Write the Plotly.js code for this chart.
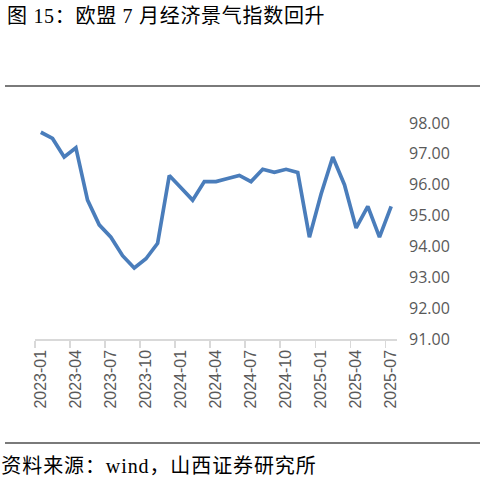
<!DOCTYPE html>
<html>
<head>
<meta charset="utf-8">
<script src="https://cdn.plot.ly/plotly-3.0.1.min.js"></script>
<style>
html,body{margin:0;padding:0;background:#fff;}
#chart{width:485px;height:484px;}
#chart .gtitle{letter-spacing:0.7px;}
#chart .annotation-text{letter-spacing:0.9px;}
</style>
</head>
<body>
<div id="chart"></div>
<script>
var months = ["2023-01","2023-02","2023-03","2023-04","2023-05","2023-06","2023-07","2023-08","2023-09","2023-10","2023-11","2023-12",
"2024-01","2024-02","2024-03","2024-04","2024-05","2024-06","2024-07","2024-08","2024-09","2024-10","2024-11","2024-12",
"2025-01","2025-02","2025-03","2025-04","2025-05","2025-06","2025-07"];
var esi = [97.7,97.5,96.9,97.2,95.5,94.7,94.3,93.7,93.3,93.6,94.1,96.3,
95.9,95.5,96.1,96.1,96.2,96.3,96.1,96.5,96.4,96.5,96.4,94.3,
95.7,96.9,96.0,94.6,95.3,94.3,95.3];
var titleText = "图 15：欧盟 7 月经济景气指数回升";
var sourceText = "资料来源：wind，山西证券研究所";

var L = 35, R = 397, T = 123, B = 339;
var W = 485, H = 484;
function px(x){ return (x - L) / (R - L); }
function py(y){ return (B - y) / (B - T); }

var serif = "Liberation Serif, 'Noto Sans CJK SC', serif";

var trace = {
  x: months, y: esi, type: "scatter", mode: "lines",
  line: {color: "#4a7dbb", width: 3.7},
  hoverinfo: "skip"
};

var layout = {
  width: W, height: H,
  margin: {l: L, r: W - R, t: T, b: H - B, pad: 0},
  paper_bgcolor: "#fff", plot_bgcolor: "#fff",
  showlegend: false,
  title: {text: titleText, x: 7 / W, xanchor: "left", xref: "container",
          y: 1 - 16 / H, yanchor: "middle", yref: "container",
          font: {family: serif, size: 20, color: "#000"}},
  xaxis: {
    type: "category", range: [-0.5, 30.5],
    tickson: "boundaries", tickmode: "linear", tick0: 0, dtick: 3,
    tickangle: -90, ticks: "outside", ticklen: 7, tickwidth: 1.5,
    tickcolor: "#d9d9d9", showline: true, linecolor: "#d9d9d9", linewidth: 1.5,
    showgrid: false, zeroline: false, ticklabelstandoff: 3,
    tickfont: {family: "'Liberation Sans', Arial, sans-serif", size: 16, color: "#595959"},
    fixedrange: true
  },
  yaxis: {
    side: "right", range: [91, 98], tickmode: "linear", tick0: 91, dtick: 1,
    tickformat: ".2f", showgrid: false, zeroline: false, showline: false,
    ticks: "", ticklabelstandoff: 11,
    tickfont: {family: "'Open Sans', sans-serif", size: 16, color: "#595959"},
    fixedrange: true
  },
  shapes: [
    {type: "line", xref: "paper", yref: "paper", x0: px(5), x1: px(480), y0: py(86), y1: py(86),
     line: {color: "#7a7a7a", width: 2}},
    {type: "line", xref: "paper", yref: "paper", x0: px(5), x1: px(480), y0: py(443), y1: py(443),
     line: {color: "#7a7a7a", width: 2}}
  ],
  annotations: [
    {text: sourceText, xref: "paper", yref: "paper", x: px(7), y: py(466),
     xanchor: "left", yanchor: "middle", showarrow: false,
     font: {family: serif, size: 20, color: "#000"}}
  ]
};

Plotly.newPlot("chart", [trace], layout, {displayModeBar: false, staticPlot: true});
</script>
</body>
</html>
